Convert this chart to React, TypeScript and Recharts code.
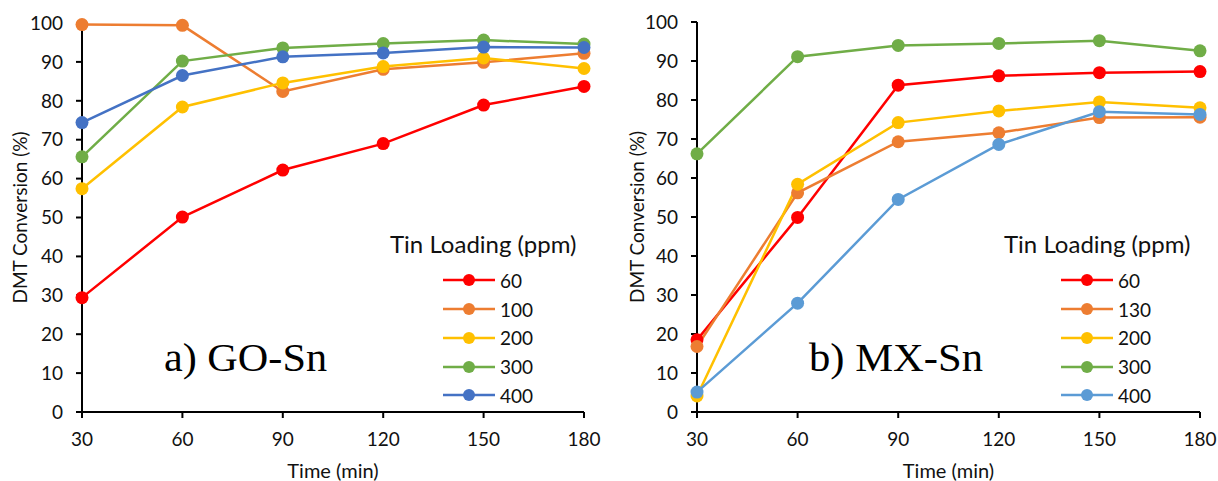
import React from 'react';
import { LineChart, Line, XAxis, YAxis, Legend } from 'recharts';

const times = [30, 60, 90, 120, 150, 180];
const yTicks = [0, 10, 20, 30, 40, 50, 60, 70, 80, 90, 100];

// a) GO-Sn
const goNames = ['60', '100', '200', '300', '400'];
const go60 = [29.4, 50.1, 62.2, 69.0, 78.9, 83.7];
const go100 = [99.6, 99.4, 82.4, 88.1, 89.9, 92.2];
const go200 = [57.4, 78.4, 84.6, 88.8, 91.0, 88.3];
const go300 = [65.6, 90.2, 93.6, 94.7, 95.6, 94.6];
const go400 = [74.4, 86.5, 91.3, 92.3, 93.8, 93.7];
const goColors = ['#FF0000', '#ED7D31', '#FFC000', '#70AD47', '#4472C4'];

// b) MX-Sn
const mxNames = ['60', '130', '200', '300', '400'];
const mx60 = [18.5, 49.9, 83.8, 86.2, 87.0, 87.3];
const mx130 = [16.8, 56.2, 69.3, 71.6, 75.5, 75.6];
const mx200 = [4.1, 58.4, 74.2, 77.2, 79.5, 78.0];
const mx300 = [66.2, 91.1, 94.0, 94.5, 95.2, 92.6];
const mx400 = [5.1, 27.9, 54.5, 68.6, 77.0, 76.3];
const mxColors = ['#FF0000', '#ED7D31', '#FFC000', '#70AD47', '#5B9BD5'];

const buildRows = (series: number[][]) =>
  times.map((t, i) => {
    const row: Record<string, number> = { time: t };
    series.forEach((s, k) => {
      row['s' + k] = s[i];
    });
    return row;
  });

const goData = buildRows([go60, go100, go200, go300, go400]);
const mxData = buildRows([mx60, mx130, mx200, mx300, mx400]);

const sansFont = 'Lato, "Open Sans", sans-serif';
const textColor = '#111';

const makeLegend = (lineOffset: number, names: string[]) => (props: any) => {
  const items = [...(props.payload || [])].sort(
    (a: any, b: any) => names.indexOf(String(a.value)) - names.indexOf(String(b.value))
  );
  return (
    <div style={{ fontFamily: sansFont, color: textColor }}>
      <div style={{ fontSize: 24, lineHeight: '26px', whiteSpace: 'nowrap' }}>Tin Loading (ppm)</div>
      <div style={{ marginTop: 9 }}>
        {items.map((entry: any) => (
          <div
            key={entry.value}
            style={{ display: 'flex', alignItems: 'center', height: 28.75, marginLeft: lineOffset }}
          >
            <svg width={52} height={14}>
              <line x1={0} y1={7} x2={52} y2={7} stroke={entry.color} strokeWidth={2.5} />
              <circle cx={26} cy={7} r={6} fill={entry.color} />
            </svg>
            <span style={{ marginLeft: 5, fontSize: 19 }}>{entry.value}</span>
          </div>
        ))}
      </div>
    </div>
  );
};

interface PanelProps {
  left: number;
  data: Record<string, number>[];
  names: string[];
  colors: string[];
  yAxisWidth: number;
  rightMargin: number;
  top: number;
  yLabelOffset: number;
  legendLeft: number;
  lineOffset: number;
  tag: string;
  tagX: number;
  tagWidth: number;
}

const Panel: React.FC<PanelProps> = (p) => {
  return (
    <div style={{ position: 'absolute', left: p.left, top: 0, width: 609, height: 481 }}>
      <LineChart
        width={609}
        height={481}
        data={p.data}
        margin={{ top: p.top, right: p.rightMargin, left: 0, bottom: 0 }}
      >
        <XAxis
          dataKey="time"
          type="number"
          domain={[30, 180]}
          ticks={times}
          height={69}
          axisLine={{ stroke: '#000', strokeWidth: 2 }}
          tickLine={{ stroke: '#000', strokeWidth: 2 }}
          tickSize={6}
          tickMargin={15}
          tick={{ fill: textColor, fontSize: 19, fontFamily: sansFont }}
          label={{
            value: 'Time (min)',
            position: 'insideBottom',
            offset: 3,
            fill: textColor,
            fontSize: 20,
            fontFamily: sansFont,
          }}
        />
        <YAxis
          type="number"
          domain={[0, 100]}
          ticks={yTicks}
          interval={0}
          width={p.yAxisWidth}
          axisLine={{ stroke: '#000', strokeWidth: 2 }}
          tickLine={{ stroke: '#000', strokeWidth: 2 }}
          tickSize={6}
          tickMargin={13}
          tick={{ fill: textColor, fontSize: 19, fontFamily: sansFont }}
          label={{
            value: 'DMT Conversion (%)',
            angle: -90,
            position: 'insideLeft',
            offset: p.yLabelOffset,
            fill: textColor,
            fontSize: 19,
            fontFamily: sansFont,
            style: { textAnchor: 'middle' },
          }}
        />
        <Legend
          layout="vertical"
          align="center"
          verticalAlign="middle"
          content={makeLegend(p.lineOffset, p.names)}
          wrapperStyle={{ left: p.legendLeft, top: 231, width: 215 }}
        />
        {p.names.map((n, k) => (
          <Line
            key={n}
            name={n}
            dataKey={'s' + k}
            stroke={p.colors[k]}
            strokeWidth={2.5}
            dot={{ r: 6.5, fill: p.colors[k], stroke: p.colors[k], strokeWidth: 0 }}
            activeDot={false}
            isAnimationActive={false}
          />
        ))}
      </LineChart>
      <svg
        width={609}
        height={481}
        style={{ position: 'absolute', left: 0, top: 0, pointerEvents: 'none' }}
      >
        <text
          x={p.tagX}
          y={371}
          fontFamily='"Liberation Serif", "Times New Roman", serif'
          fontSize={41}
          fill="#000"
          textLength={p.tagWidth}
          lengthAdjust="spacingAndGlyphs"
        >
          {p.tag}
        </text>
      </svg>
    </div>
  );
};

export default function App() {
  return (
    <div style={{ position: 'absolute', left: 0, top: 0, width: 1218, height: 481, background: '#fff' }}>
      <Panel
        left={0}
        data={goData}
        names={goNames}
        colors={goColors}
        yAxisWidth={82}
        rightMargin={25}
        top={23}
        yLabelOffset={20}
        legendLeft={390}
        lineOffset={53}
        tag="a) GO-Sn"
        tagX={164}
        tagWidth={163}
      />
      <Panel
        left={609}
        data={mxData}
        names={mxNames}
        colors={mxColors}
        yAxisWidth={88}
        rightMargin={18}
        top={22}
        yLabelOffset={28}
        legendLeft={395}
        lineOffset={57}
        tag="b) MX-Sn"
        tagX={200}
        tagWidth={174}
      />
    </div>
  );
}
